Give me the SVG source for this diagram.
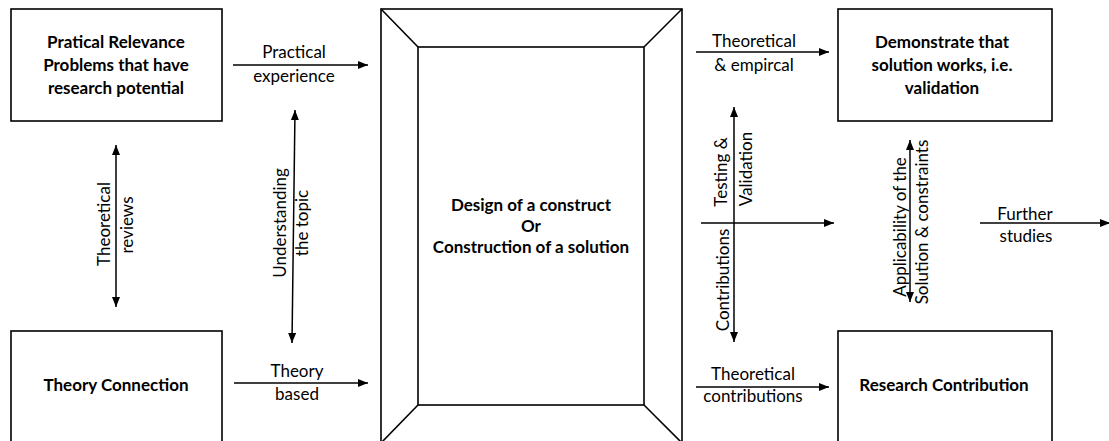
<svg xmlns="http://www.w3.org/2000/svg" width="1109" height="441" viewBox="0 0 1109 441">
  <style>
    .box { fill: #ffffff; stroke: #000000; stroke-width: 1.6; }
    .frame { fill: none; stroke: #000000; stroke-width: 1.6; stroke-linejoin: miter; }
    .link { fill: none; stroke: #000000; stroke-width: 1.5; }
    .title { font-family: Lato, "Liberation Sans", sans-serif; font-weight: bold; font-size: 17px; fill: #000000; text-anchor: middle; }
    .label { font-family: Lato, "Liberation Sans", sans-serif; font-size: 17px; fill: #000000; text-anchor: middle; }
  </style>
  <defs>
    <marker id="head" markerUnits="userSpaceOnUse" markerWidth="11" markerHeight="9" refX="10" refY="4" orient="auto-start-reverse">
      <path d="M0,0 L10,4 L0,8 Z" fill="#000000"/>
    </marker>
  </defs>
  <rect width="1109" height="441" fill="#ffffff"/>

  <!-- Top-left node -->
  <g id="practical-relevance">
    <rect class="box" x="11" y="9" width="211" height="112"/>
    <text class="title" x="116" y="48">Pratical Relevance</text>
    <text class="title" x="116" y="71">Problems that have</text>
    <text class="title" x="116" y="94">research potential</text>
  </g>

  <!-- Bottom-left node -->
  <g id="theory-connection">
    <rect class="box" x="11" y="331" width="211" height="120"/>
    <text class="title" x="116" y="391">Theory Connection</text>
  </g>

  <!-- Central construct drawn as a framed panel -->
  <g id="design-construct">
    <rect class="frame" x="381" y="9" width="301" height="445"/>
    <rect class="frame" x="418" y="47" width="226" height="358"/>
    <line class="frame" x1="381" y1="9" x2="418" y2="47"/>
    <line class="frame" x1="682" y1="9" x2="644" y2="47"/>
    <line class="frame" x1="418" y1="405" x2="381" y2="443"/>
    <line class="frame" x1="644" y1="405" x2="682" y2="443"/>
    <text class="title" x="531" y="211">Design of a construct</text>
    <text class="title" x="531" y="232">Or</text>
    <text class="title" x="531" y="253">Construction of a solution</text>
  </g>

  <!-- Top-right node -->
  <g id="validation">
    <rect class="box" x="838" y="9" width="214" height="112"/>
    <text class="title" x="942" y="48">Demonstrate that</text>
    <text class="title" x="942" y="71">solution works, i.e.</text>
    <text class="title" x="942" y="94">validation</text>
  </g>

  <!-- Bottom-right node -->
  <g id="research-contribution">
    <rect class="box" x="838" y="331" width="214" height="120"/>
    <text class="title" x="944" y="391">Research Contribution</text>
  </g>

  <!-- Connectors and their labels -->
  <g id="connectors">
    <line class="link" x1="233" y1="65" x2="368" y2="65" marker-end="url(#head)"/>
    <text class="label" x="294" y="58">Practical</text>
    <text class="label" x="294" y="82">experience</text>

    <line class="link" x1="234" y1="383" x2="368" y2="383" marker-end="url(#head)"/>
    <text class="label" x="297" y="377">Theory</text>
    <text class="label" x="297" y="400">based</text>

    <line class="link" x1="116" y1="145" x2="116" y2="307" marker-start="url(#head)" marker-end="url(#head)"/>
    <text class="label" transform="translate(110,224) rotate(-90)">Theoretical</text>
    <text class="label" transform="translate(133,225) rotate(-90)">reviews</text>

    <line class="link" x1="295" y1="110" x2="292" y2="343" marker-start="url(#head)" marker-end="url(#head)"/>
    <text class="label" transform="translate(286,223) rotate(-90)">Understanding</text>
    <text class="label" transform="translate(308,223) rotate(-90)">the topic</text>

    <line class="link" x1="696" y1="52" x2="829" y2="52" marker-end="url(#head)"/>
    <text class="label" x="754" y="47">Theoretical</text>
    <text class="label" x="754" y="71">&amp; empircal</text>

    <line class="link" x1="696" y1="387" x2="829" y2="387" marker-end="url(#head)"/>
    <text class="label" x="753" y="380">Theoretical</text>
    <text class="label" x="753" y="402">contributions</text>

    <line class="link" x1="734" y1="107" x2="734" y2="342" marker-start="url(#head)" marker-end="url(#head)"/>
    <line class="link" x1="701" y1="223" x2="834" y2="223" marker-end="url(#head)"/>
    <text class="label" transform="translate(727,172) rotate(-90)">Testing &amp;</text>
    <text class="label" transform="translate(752,169) rotate(-90)">Validation</text>
    <text class="label" transform="translate(729,280) rotate(-90)">Contributions</text>

    <line class="link" x1="910" y1="140" x2="910" y2="302" marker-start="url(#head)" marker-end="url(#head)"/>
    <text class="label" transform="translate(906,227) rotate(-90)">Applicability of the</text>
    <text class="label" transform="translate(928,222) rotate(-90)">Solution &amp; constraints</text>

    <line class="link" x1="980" y1="223" x2="1110" y2="223" marker-end="url(#head)"/>
    <text class="label" x="1025" y="220">Further</text>
    <text class="label" x="1026" y="242">studies</text>
  </g>
</svg>
